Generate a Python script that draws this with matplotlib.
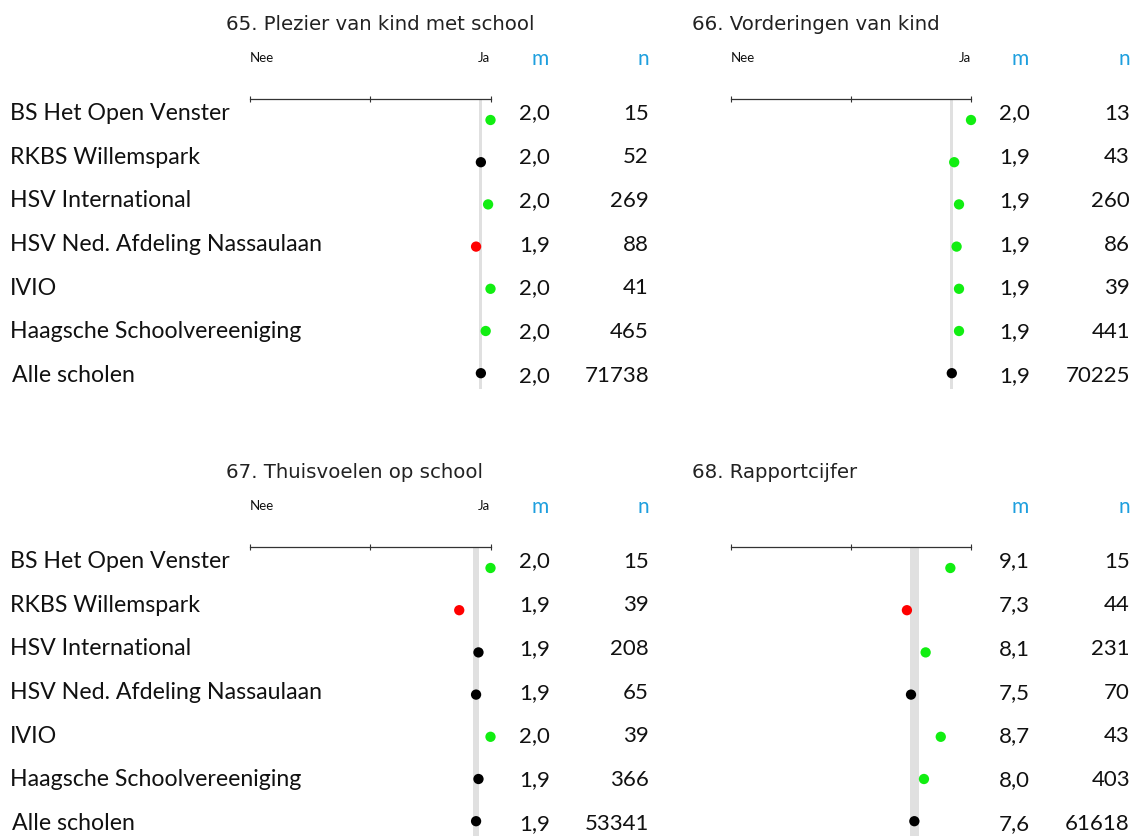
import matplotlib
matplotlib.use("Agg")
import matplotlib.pyplot as plt

W, H, DPI = 1134, 837, 100

schools = ["BS Het Open Venster", "RKBS Willemspark", "HSV International",
           "HSV Ned. Afdeling Nassaulaan", "IVIO", "Haagsche Schoolvereeniging",
           "Alle scholen"]

titles = ["65. Plezier van kind met school", "66. Vorderingen van kind",
          "67. Thuisvoelen op school", "68. Rapportcijfer"]

# estimated means (dot positions)
mean_65 = [2.00, 1.96, 1.99, 1.94, 2.00, 1.98, 1.96]
mean_66 = [2.00, 1.93, 1.95, 1.94, 1.95, 1.95, 1.92]
mean_67 = [2.00, 1.87, 1.95, 1.94, 2.00, 1.95, 1.94]
mean_68 = [9.14, 7.33, 8.11, 7.50, 8.74, 8.04, 7.64]

# printed m values
m_65 = ["2,0", "2,0", "2,0", "1,9", "2,0", "2,0", "2,0"]
m_66 = ["2,0", "1,9", "1,9", "1,9", "1,9", "1,9", "1,9"]
m_67 = ["2,0", "1,9", "1,9", "1,9", "2,0", "1,9", "1,9"]
m_68 = ["9,1", "7,3", "8,1", "7,5", "8,7", "8,0", "7,6"]

# n values
n_65 = [15, 52, 269, 88, 41, 465, 71738]
n_66 = [13, 43, 260, 86, 39, 441, 70225]
n_67 = [15, 39, 208, 65, 39, 366, 53341]
n_68 = [15, 44, 231, 70, 43, 403, 61618]

# significance: g = higher, r = lower, k = no difference
sig_65 = ["g", "k", "g", "r", "g", "g", "k"]
sig_66 = ["g", "g", "g", "g", "g", "g", "k"]
sig_67 = ["g", "r", "k", "k", "g", "k", "k"]
sig_68 = ["g", "r", "g", "k", "g", "g", "k"]

scale_min = [1, 1, 1, 0]
scale_max = [2, 2, 2, 10]

COLORS = {"g": "#11EE11", "r": "#FF0000", "k": "#000000"}
BLUE = "#1E9FDE"
LABEL_FONT = ["Lato", "DejaVu Sans"]
TITLE_FONT = ["DejaVu Sans"]

fig = plt.figure(figsize=(W / DPI, H / DPI), dpi=DPI)


def fx(x):
    return x / W


def fy(y):
    return 1 - y / H


panels = [
    dict(means=mean_65, ms=m_65, ns=n_65, sig=sig_65, title=titles[0],
         xl=250, xr=490.5, off=0, labels=True, neeja=True, band=3, gb=390),
    dict(means=mean_66, ms=m_66, ns=n_66, sig=sig_66, title=titles[1],
         xl=731, xr=971, off=0, labels=False, neeja=True, band=3, gb=390),
    dict(means=mean_67, ms=m_67, ns=n_67, sig=sig_67, title=titles[2],
         xl=250, xr=490.5, off=448, labels=True, neeja=True, band=6, gb=837),
    dict(means=mean_68, ms=m_68, ns=n_68, sig=sig_68, title=titles[3],
         xl=731, xr=971, off=448, labels=False, neeja=False, band=9, gb=837),
]

for k, p in enumerate(panels):
    off = p["off"]
    lo, hi = scale_min[k], scale_max[k]
    xl, xr = p["xl"], p["xr"]
    axis_y = 100 + off
    dot0 = 121 + off
    ddot = 42.2
    txt0 = 113.5 + off
    dtxt = 43.7
    gb = p["gb"]
    left_panel = xl < 600
    m_right = 550 if left_panel else 1030
    n_right = 649 if left_panel else 1130
    m_center = 540 if left_panel else 1020
    n_center = 643 if left_panel else 1124
    title_x = 226 if left_panel else 692

    ax = fig.add_axes([fx(xl), fy(gb), (xr - xl) / W, (gb - axis_y) / H])
    ax.set_xlim(lo, hi)
    ax.set_ylim((gb - dot0) / ddot, (axis_y - dot0) / ddot)
    ax.patch.set_visible(False)
    for s in ["left", "right", "bottom"]:
        ax.spines[s].set_visible(False)
    ax.spines["top"].set_color("#333333")
    ax.spines["top"].set_linewidth(0.9)
    ax.xaxis.tick_top()
    ax.set_xticks([lo, (lo + hi) / 2, hi])
    ax.tick_params(axis="x", direction="inout", length=5, width=0.8,
                   color="#333333", labeltop=False, labelbottom=False)
    ax.set_yticks([])

    # reference band at the overall mean
    ref = p["means"][-1]
    half = (p["band"] / 2) / (xr - xl) * (hi - lo)
    ax.axvspan(ref - half, ref + half, color="#E0E0E0", lw=0, zorder=1)

    rows = list(range(len(schools)))
    ax.scatter(p["means"], rows, s=55, c=[COLORS[c] for c in p["sig"]],
               zorder=3, clip_on=False, linewidths=0)

    # title
    fig.text(fx(title_x), fy(25 + off), p["title"], fontsize=14.2,
             family=TITLE_FONT, color="#222222", ha="left", va="center")
    # headers
    hy = 59 + off
    if p["neeja"]:
        fig.text(fx(xl), fy(hy - 1), "Nee", fontsize=9.5, family=LABEL_FONT,
                 ha="left", va="center", color="#111111")
        fig.text(fx(xr), fy(hy - 1), "Ja", fontsize=9.5, family=LABEL_FONT,
                 ha="right", va="center", color="#111111")
    fig.text(fx(m_center), fy(hy), "m", fontsize=15, family=LABEL_FONT,
             ha="center", va="center", color=BLUE)
    fig.text(fx(n_center), fy(hy), "n", fontsize=15, family=LABEL_FONT,
             ha="center", va="center", color=BLUE)

    for i in rows:
        ty = txt0 + i * dtxt
        if p["labels"]:
            lx = 12 if i == len(schools) - 1 else 10
            fig.text(fx(lx), fy(ty), schools[i], fontsize=16.7,
                     family=LABEL_FONT, ha="left", va="center", color="#111111")
        fig.text(fx(m_right), fy(ty), p["ms"][i], fontsize=16,
                 family=LABEL_FONT, ha="right", va="center", color="#111111")
        fig.text(fx(n_right), fy(ty), str(p["ns"][i]), fontsize=16,
                 family=LABEL_FONT, ha="right", va="center", color="#111111")

fig.savefig("out.png", dpi=DPI)
